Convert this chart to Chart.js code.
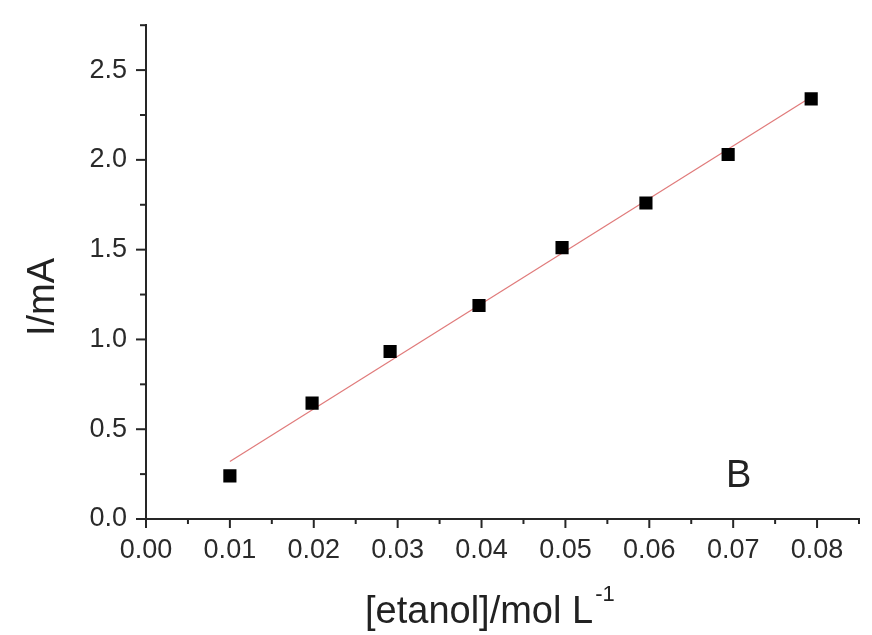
<!DOCTYPE html>
<html>
<head>
<meta charset="utf-8">
<script src="https://cdn.jsdelivr.net/npm/chart.js@4"></script>
<style>
    body { margin: 0; background: #fff; }
    #wrap { width: 872px; height: 635px; }
</style>
</head>
<body>
<div id="wrap"><canvas id="chart" width="872" height="635"></canvas></div>
<script>
// --- Data ---
const concentration = [0.0100, 0.0198, 0.0291, 0.0397, 0.0496, 0.0596, 0.0694, 0.0793];
const current = [0.24, 0.645, 0.933, 1.189, 1.511, 1.76, 2.03, 2.34];
const fitX = [0.0100, 0.0793];
const fitY = [0.32, 2.35];

const xTitle = '[etanol]/mol L';
const xTitleSup = '-1';
const yTitle = 'I/mA';
const panelLabel = 'B';

const FONT = '"Liberation Sans", Arial, sans-serif';
const AXIS_COLOR = '#262626';

// --- Ticks, axis titles and panel letter drawn on top ---
const decorPlugin = {
    id: 'decor',
    afterDraw(chart) {
        const ctx = chart.ctx;
        const { x, y } = chart.scales;
        ctx.save();
        ctx.strokeStyle = AXIS_COLOR;
        ctx.lineWidth = 2;

        x.ticks.forEach(t => {
            const px = x.getPixelForValue(t.value);
            const major = Math.round(t.value * 200) % 2 === 0;
            ctx.beginPath();
            ctx.moveTo(px, x.top);
            ctx.lineTo(px, x.top + (major ? 9 : 5));
            ctx.stroke();
        });
        y.ticks.forEach(t => {
            const py = y.getPixelForValue(t.value);
            const major = Math.round(t.value * 4) % 2 === 0;
            ctx.beginPath();
            ctx.moveTo(y.right, py);
            ctx.lineTo(y.right - (major ? 10 : 6), py);
            ctx.stroke();
        });

        ctx.fillStyle = '#222';

        // x axis title with superscript
        ctx.textBaseline = 'alphabetic';
        ctx.textAlign = 'left';
        ctx.font = '38px ' + FONT;
        const mainW = ctx.measureText(xTitle).width;
        const startX = 365;
        ctx.fillText(xTitle, startX, 623);
        ctx.font = '22px ' + FONT;
        ctx.fillText(xTitleSup, startX + mainW + 2, 601);

        // y axis title, rotated
        ctx.save();
        ctx.translate(44, 297);
        ctx.rotate(-Math.PI / 2);
        ctx.textAlign = 'center';
        ctx.textBaseline = 'middle';
        ctx.font = '38px ' + FONT;
        ctx.fillText(yTitle, 0, 0);
        ctx.restore();

        // panel letter
        ctx.textAlign = 'left';
        ctx.textBaseline = 'alphabetic';
        ctx.font = '38px ' + FONT;
        ctx.fillText(panelLabel, 726, 487);
        ctx.restore();
    }
};

const ctx = document.getElementById('chart').getContext('2d');
new Chart(ctx, {
    type: 'scatter',
    data: {
        datasets: [
            {
                label: 'data',
                data: concentration.map((c, i) => ({ x: c, y: current[i] })),
                pointStyle: 'rect',
                pointRadius: 9.3,
                pointHoverRadius: 9.3,
                backgroundColor: '#000',
                borderColor: '#000',
                borderWidth: 0,
                order: 0
            },
            {
                label: 'fit',
                data: fitX.map((c, i) => ({ x: c, y: fitY[i] })),
                showLine: true,
                pointRadius: 0,
                borderColor: '#e07a7a',
                borderWidth: 1.2,
                fill: false,
                order: 1
            }
        ]
    },
    options: {
        responsive: false,
        animation: false,
        layout: { padding: { top: 25, right: 13, left: 0, bottom: 0 } },
        plugins: { legend: { display: false }, tooltip: { enabled: false } },
        scales: {
            x: {
                type: 'linear',
                min: 0,
                max: 0.085,
                afterFit: s => { s.height = 116; },
                border: { display: true, color: AXIS_COLOR, width: 2 },
                grid: { display: true, drawOnChartArea: false, drawTicks: true, tickLength: 9, color: 'rgba(0,0,0,0)' },
                ticks: {
                    stepSize: 0.005,
                    autoSkip: false,
                    maxRotation: 0,
                    padding: 6,
                    color: '#2a2a2a',
                    font: { family: FONT, size: 27 },
                    callback: v => (Math.round(v * 200) % 2 === 0 ? v.toFixed(2) : '')
                }
            },
            y: {
                type: 'linear',
                min: 0,
                max: 2.75,
                afterFit: s => { s.width = 146; },
                border: { display: true, color: AXIS_COLOR, width: 2 },
                grid: { display: true, drawOnChartArea: false, drawTicks: true, tickLength: 10, color: 'rgba(0,0,0,0)' },
                ticks: {
                    stepSize: 0.25,
                    autoSkip: false,
                    padding: 9,
                    color: '#2a2a2a',
                    font: { family: FONT, size: 27 },
                    callback: v => (Math.round(v * 4) % 2 === 0 ? v.toFixed(1) : '')
                }
            }
        }
    },
    plugins: [decorPlugin]
});
</script>
</body>
</html>
